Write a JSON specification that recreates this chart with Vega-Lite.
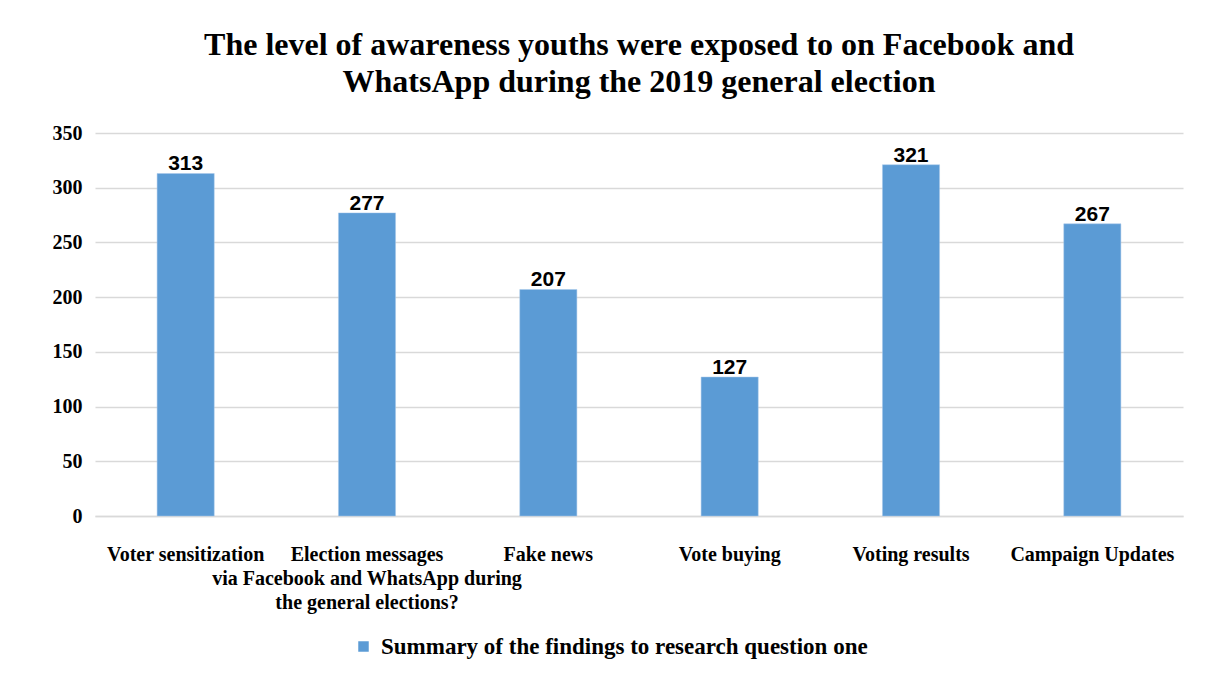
{
  "$schema": "https://vega.github.io/schema/vega-lite/v6.json",
  "autosize": {"type": "none"},
  "width": 1088,
  "height": 383,
  "padding": {"left": 95, "top": 133, "right": 25, "bottom": 160},
  "background": "white",
  "title": {
    "text": ["The level of awareness youths were exposed to on Facebook and", "WhatsApp during the 2019 general election"],
    "font": "Liberation Serif",
    "fontSize": 32,
    "fontWeight": "bold",
    "color": "#000000",
    "anchor": "middle",
    "lineHeight": 37,
    "offset": 24
  },
  "data": {
    "values": [
      {"item": "Voter sensitization", "count": 313, "series": "Summary of the findings to research  question one"},
      {"item": "Election messages\nvia Facebook and WhatsApp during\nthe general elections?", "count": 277, "series": "Summary of the findings to research  question one"},
      {"item": "Fake news", "count": 207, "series": "Summary of the findings to research  question one"},
      {"item": "Vote buying", "count": 127, "series": "Summary of the findings to research  question one"},
      {"item": "Voting results", "count": 321, "series": "Summary of the findings to research  question one"},
      {"item": "Campaign Updates", "count": 267, "series": "Summary of the findings to research  question one"}
    ]
  },
  "encoding": {
    "x": {
      "field": "item",
      "type": "nominal",
      "sort": null,
      "scale": {"paddingInner": 0.685, "paddingOuter": 0.3425},
      "axis": {
        "title": null,
        "labelAngle": 0,
        "labelLimit": 0,
        "labelExpr": "split(datum.label, '\\n')",
        "labelFont": "Liberation Serif",
        "labelFontSize": 20,
        "labelFontWeight": "bold",
        "labelColor": "#000000",
        "labelLineHeight": 24,
        "labelPadding": 28,
        "labelOverlap": false,
        "labelBound": false,
        "ticks": false,
        "domainColor": "#d9d9d9",
        "domainWidth": 1.5
      }
    },
    "y": {
      "field": "count",
      "type": "quantitative",
      "scale": {"domain": [0, 350]},
      "axis": {
        "title": null,
        "values": [0, 50, 100, 150, 200, 250, 300, 350],
        "labelFont": "Liberation Serif",
        "labelFontSize": 20,
        "labelFontWeight": "bold",
        "labelColor": "#000000",
        "labelPadding": 13,
        "ticks": false,
        "domain": false,
        "gridColor": "#d9d9d9",
        "gridWidth": 1.5
      }
    }
  },
  "layer": [
    {
      "mark": {"type": "bar", "stroke": "#a9c9ea", "strokeWidth": 0.5},
      "encoding": {
        "color": {
          "field": "series",
          "type": "nominal",
          "scale": {"range": ["#5b9bd5"]},
          "legend": {
            "title": null,
            "orient": "none",
            "legendX": 257,
            "legendY": 502,
            "symbolType": "square",
            "symbolSize": 110,
            "symbolStrokeWidth": 0,
            "labelFont": "Liberation Serif",
            "labelFontSize": 23,
            "labelFontWeight": "bold",
            "labelColor": "#000000",
            "labelLimit": 0,
            "labelOffset": 6
          }
        }
      }
    },
    {
      "mark": {
        "type": "text",
        "baseline": "bottom",
        "dy": 1,
        "font": "Liberation Sans",
        "fontSize": 21,
        "fontWeight": "bold",
        "color": "#000000"
      },
      "encoding": {
        "text": {"field": "count", "type": "quantitative"}
      }
    }
  ],
  "config": {
    "view": {"stroke": null}
  }
}
